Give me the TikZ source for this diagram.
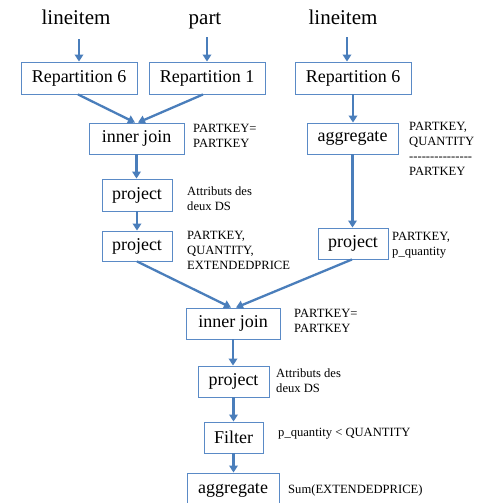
\documentclass[tikz,border=0pt]{standalone}
\usepackage{fontspec}
\setmainfont{Liberation Serif}
\usetikzlibrary{arrows.meta}
\definecolor{flowblue}{HTML}{4A7EBB}
\definecolor{boxblue}{HTML}{5A8AC6}
\newcommand{\hy}{-\kern0pt}
\tikzset{
  opbox/.style={draw=boxblue, line width=0.9pt, minimum height=31pt, inner sep=0pt,
    font=\fontsize{18}{20}\selectfont},
  srclabel/.style={inner sep=0pt, text height=15pt, text depth=5pt, anchor=base,
    font=\fontsize{21}{24}\selectfont},
  note/.style={anchor=west, inner sep=0pt, align=left,
    font=\fontsize{12.6}{15.2}\selectfont},
  flow/.style={draw=flowblue, line width=2.3pt,
    -{Triangle[width=8.5pt,length=7pt]}}
}
\begin{document}
\begin{tikzpicture}[x=1pt, y=-1pt]
\useasboundingbox[fill=white] (0,0) rectangle (478,503);
\clip (0,0) rectangle (478,503);

% sources
\node[srclabel] (lA) at (76,25) {lineitem};
\node[srclabel] (lB) at (205,25) {part};
\node[srclabel] (lC) at (343,25) {lineitem};

% operators
\node[opbox, minimum width=116pt, minimum height=32pt] (rA) at (79,78) {Repartition 6};
\node[opbox, minimum width=116pt, minimum height=32pt] (rB) at (207,78) {Repartition 1};
\node[opbox, minimum width=116pt, minimum height=32pt] (rC) at (353,78) {Repartition 6};
\node[opbox, minimum width=95pt] (j1) at (136.5,138.5) {inner join};
\node[opbox, minimum width=91pt] (ag1) at (352.5,138.5) {aggregate};
\node[opbox, minimum width=70pt, minimum height=32pt] (p1) at (137,195) {project};
\node[opbox, minimum width=70pt, minimum height=30pt] (p2) at (137,246) {project};
\node[opbox, minimum width=70pt] (p3) at (353,243.5) {project};
\node[opbox, minimum width=94pt] (j2) at (233,323.5) {inner join};
\node[opbox, minimum width=71pt] (p4) at (233.5,381.5) {project};
\node[opbox, minimum width=59pt] (flt) at (233.5,437.5) {Filter};
\node[opbox, minimum width=92pt, minimum height=34pt] (ag2) at (233,490) {aggregate};

% annotations
\node[note] (n1) at (193,136) {PARTKEY=\\PARTKEY};
\node[note] (n2) at (409,149) {PARTKEY,\\QUANTITY\\\hy\hy\hy\hy\hy\hy\hy\hy\hy\hy\hy\hy\hy\hy\hy\\PARTKEY};
\node[note] (n3) at (187,198.5) {Attributs des\\deux DS};
\node[note] (n4) at (187,250.5) {PARTKEY,\\QUANTITY,\\EXTENDEDPRICE};
\node[note] (n5) at (392,245) {PARTKEY,\\p\_quantity};
\node[note] (n6) at (294,321) {PARTKEY=\\PARTKEY};
\node[note] (n7) at (276,380.5) {Attributs des\\deux DS};
\node[note] (n8) at (278,434) {p\_quantity < QUANTITY};
\node[note] (n9) at (288,490) {Sum(EXTENDEDPRICE)};

% connectors
\draw[flow, shorten <=9pt] (rA.north |- lA.south) -- (rA.north);
\draw[flow, shorten <=7pt] (rB.north |- lB.south) -- (rB.north);
\draw[flow, shorten <=7pt] ([xshift=-6pt]rC.north |- lC.south) -- ([xshift=-6pt]rC.north);
\draw[flow] ([xshift=-1pt]rA.south) -- ([xshift=-1.5pt]j1.north);
\draw[flow] ([xshift=-4pt]rB.south) -- ([xshift=1.5pt]j1.north);
\draw[flow] (rC.south) -- (rC.south |- ag1.north);
\draw[flow] (j1.south) -- (j1.south |- p1.north);
\draw[flow] (p1.south) -- (p1.south |- p2.north);
\draw[flow] (ag1.south) -- (ag1.south |- p3.north);
\draw[flow] (p2.south) -- ([xshift=-2pt]j2.north);
\draw[flow] ([xshift=-1pt]p3.south) -- ([xshift=3pt]j2.north);
\draw[flow] (j2.south) -- (j2.south |- p4.north);
\draw[flow] (p4.south) -- (p4.south |- flt.north);
\draw[flow] (flt.south) -- (flt.south |- ag2.north);
\end{tikzpicture}
\end{document}
